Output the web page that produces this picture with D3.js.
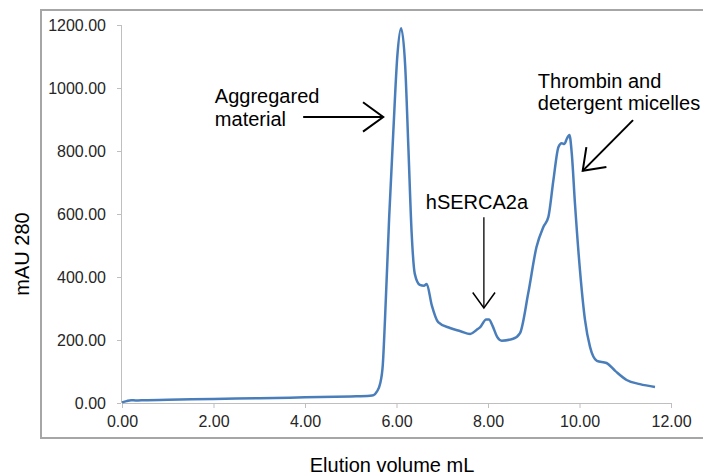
<!DOCTYPE html>
<html>
<head>
<meta charset="utf-8">
<script src="https://cdn.jsdelivr.net/npm/d3@7"></script>
<style>
  body { margin: 0; background: #fff; }
  text { font-family: "Liberation Sans", Arial, sans-serif; }
</style>
</head>
<body>
<div class="chart"></div>
<script>
// chromatogram values
const volume = [0.00, 0.10, 0.20, 0.30, 0.50, 1.00, 2.00, 3.00, 4.00, 5.00, 5.42, 5.50, 5.57, 5.64, 5.70,
  5.75, 5.84, 5.93, 6.02, 6.10, 6.19, 6.26, 6.33, 6.40, 6.51, 6.60, 6.66, 6.77, 6.91, 7.17, 7.40,
  7.61, 7.75, 7.83, 7.96, 8.02, 8.10, 8.20, 8.30, 8.55, 8.70, 8.88, 9.06, 9.21, 9.32, 9.43, 9.54,
  9.61, 9.67, 9.72, 9.78, 9.83, 9.90, 10.01, 10.12, 10.23, 10.38, 10.59, 10.78, 11.03, 11.32, 11.65];
const mau = [2, 6, 9, 8, 9, 10, 13, 15, 18, 21, 23, 25, 36, 60, 120,
  270, 590, 860, 1105, 1190, 1070, 810, 543, 410, 375, 372, 378, 311, 257, 238, 228,
  219, 232, 241, 265, 265, 245, 210, 198, 204, 222, 349, 495, 559, 591, 708, 813,
  825, 822, 838, 851, 794, 635, 422, 264, 178, 134, 127, 102, 73, 60, 51];

const xTicks = [0, 2, 4, 6, 8, 10, 12];
const yTicks = [0, 200, 400, 600, 800, 1000, 1200];
const xTitle = "Elution volume mL";
const yTitle = "mAU 280";

// annotation labels
const notes = [
  { lines: ["Aggregared", "material"] },
  { lines: ["hSERCA2a"] },
  { lines: ["Thrombin and", "detergent micelles"] }
];

const W = 703, H = 476;
const x0 = 122, x1 = 671, yTop = 25, yBot = 403;

const svg = d3.select(".chart").append("svg")
  .attr("width", W).attr("height", H);

// outer frame
svg.append("rect")
  .attr("x", 41).attr("y", 10)
  .attr("width", 700).attr("height", 428)
  .attr("fill", "none")
  .attr("stroke", "#a6a6a6")
  .attr("stroke-width", 2);

const x = d3.scaleLinear().domain([0, 12]).range([x0, x1]);
const y = d3.scaleLinear().domain([0, 1200]).range([yBot, yTop]);

// x axis
const gx = svg.append("g")
  .attr("transform", "translate(0," + yBot + ")")
  .call(d3.axisBottom(x).tickValues(xTicks).tickSize(5).tickPadding(8)
    .tickFormat(d3.format(".2f")));
gx.select(".domain").attr("stroke", "#bfbfbf").attr("d", "M" + x0 + ",0.5H" + x1);
gx.selectAll(".tick line").attr("stroke", "#bfbfbf");
gx.selectAll(".tick text").attr("fill", "#262626")
  .style("font-size", "16px").style("font-family", "Liberation Sans, Arial, sans-serif");

// y axis
const gy = svg.append("g")
  .attr("transform", "translate(" + (x0 - 1) + ",0)")
  .call(d3.axisLeft(y).tickValues(yTicks).tickSize(4).tickPadding(11)
    .tickFormat(d3.format(".2f")));
gy.select(".domain").attr("stroke", "#bfbfbf").attr("d", "M0.5," + yTop + "V" + yBot);
gy.selectAll(".tick line").attr("stroke", "#bfbfbf");
gy.selectAll(".tick text").attr("fill", "#262626")
  .style("font-size", "16px").style("font-family", "Liberation Sans, Arial, sans-serif");

// axis titles
svg.append("text")
  .attr("x", 392).attr("y", 472)
  .attr("text-anchor", "middle")
  .style("font-size", "20px")
  .text(xTitle);

svg.append("text")
  .attr("transform", "translate(29,254) rotate(-90)")
  .attr("text-anchor", "middle")
  .style("font-size", "20px")
  .text(yTitle);

// the trace
const pts = volume.map((v, i) => ({ x: v, y: mau[i] }));
svg.append("path")
  .datum(pts)
  .attr("fill", "none")
  .attr("stroke", "#4a7ebb")
  .attr("stroke-width", 2.5)
  .attr("stroke-linejoin", "round")
  .attr("d", d3.line()
    .x(d => x(d.x))
    .y(d => y(d.y))
    .curve(d3.curveMonotoneX));

// annotations: text position and arrow (tail -> tip) in data units
const notePos = [
  { tx: 2.03, ty: 103, dy: 23, tail: [3.96, 908], tip: [5.71, 908], head: 25 },
  { tx: 6.64, ty: 209, dy: 0, tail: [7.91, 590], tip: [7.91, 302], head: 19 },
  { tx: 9.09, ty: 88, dy: 22, tail: [11.17, 898], tip: [10.07, 737], head: 24 }
];

function arrow(g, p) {
  const ax = x(p.tail[0]), ay = y(p.tail[1]);
  const bx = x(p.tip[0]), by = y(p.tip[1]);
  const ang = Math.atan2(ay - by, ax - bx);
  const spread = 36 * Math.PI / 180;
  g.append("line")
    .attr("x1", ax).attr("y1", ay).attr("x2", bx).attr("y2", by)
    .attr("stroke", "#000").attr("stroke-width", p.head > 20 ? 2 : 1.3);
  g.append("path")
    .attr("d", "M" + (bx + p.head * Math.cos(ang + spread)) + "," + (by + p.head * Math.sin(ang + spread)) +
      "L" + bx + "," + by +
      "L" + (bx + p.head * Math.cos(ang - spread)) + "," + (by + p.head * Math.sin(ang - spread)))
    .attr("fill", "none")
    .attr("stroke", "#000")
    .attr("stroke-width", p.head > 20 ? 2 : 1.5);
}

notes.forEach((n, i) => {
  const p = notePos[i];
  const g = svg.append("g");
  n.lines.forEach((s, k) => {
    g.append("text")
      .attr("x", x(p.tx)).attr("y", p.ty + k * p.dy)
      .style("font-size", "20px")
      .attr("fill", "#000")
      .text(s);
  });
  arrow(g, p);
});
</script>
</body>
</html>
